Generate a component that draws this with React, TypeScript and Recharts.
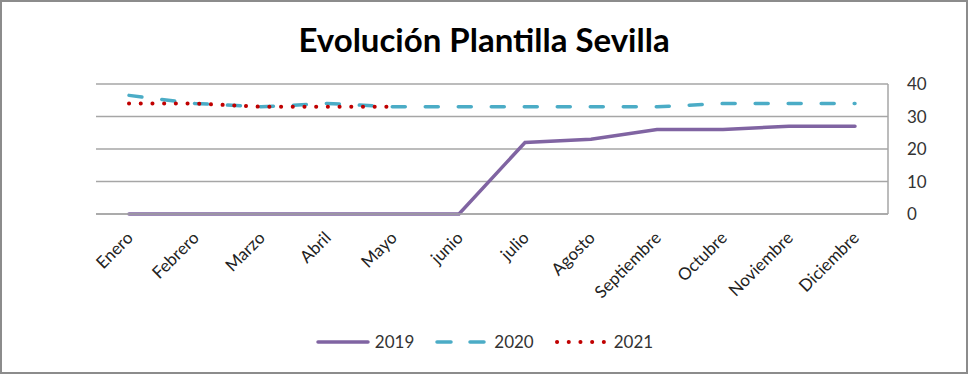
import React from 'react';
import { LineChart, Line, XAxis, YAxis, CartesianGrid, Legend } from 'recharts';

const MONTHS = [
  'Enero', 'Febrero', 'Marzo', 'Abril', 'Mayo', 'junio',
  'julio', 'Agosto', 'Septiembre', 'Octubre', 'Noviembre', 'Diciembre',
];
const PLANTILLA_2019 = [0, 0, 0, 0, 0, 0, 22, 23, 26, 26, 27, 27];
const PLANTILLA_2020 = [36.5, 34, 33, 34, 33, 33, 33, 33, 33, 34, 34, 34];
const PLANTILLA_2021 = [34, 34, 33, 33, 33];
const Y_TICKS = [0, 10, 20, 30, 40];

const FONT = 'Lato, Calibri, sans-serif';

const SERIES = [
  { key: 'y2019', name: '2019', color: '#8064A2', dash: undefined, width: 3.5 },
  { key: 'y2020', name: '2020', color: '#4BACC6', dash: '13 20', width: 3.5 },
  { key: 'y2021', name: '2021', color: '#C00000', dash: '0.1 11.6', width: 4 },
];

const data = MONTHS.map((m, i) => ({
  month: m,
  y2019: PLANTILLA_2019[i],
  y2020: PLANTILLA_2020[i],
  y2021: i < PLANTILLA_2021.length ? PLANTILLA_2021[i] : null,
}));

function MonthTick({ x, y, payload }: any) {
  const tx = x + 5;
  const ty = y + 17;
  return (
    <text
      x={tx}
      y={ty}
      transform={`rotate(-45 ${tx} ${ty})`}
      textAnchor="end"
      fontFamily={FONT}
      fontSize={17}
      fill="#222"
    >
      {payload.value}
    </text>
  );
}

function SeriesLegend() {
  return (
    <div style={{ display: 'flex', justifyContent: 'center', alignItems: 'center', fontFamily: FONT, fontSize: 17, color: '#333' }}>
      {SERIES.map((s) => (
        <div key={s.key} style={{ display: 'flex', alignItems: 'center', margin: '0 10px' }}>
          <svg width={56} height={10} style={{ marginRight: 4 }}>
            <line
              x1={3}
              y1={5}
              x2={53}
              y2={5}
              stroke={s.color}
              strokeWidth={s.width}
              strokeLinecap="round"
              strokeDasharray={s.key === 'y2020' ? '14 19' : s.dash}
            />
          </svg>
          <span>{s.name}</span>
        </div>
      ))}
    </div>
  );
}

export default function App() {
  return (
    <div
      style={{
        position: 'fixed',
        left: 0,
        top: 0,
        width: 968,
        height: 374,
        boxSizing: 'border-box',
        border: '2px solid #8c8c8c',
        background: '#fff',
      }}
    >
      <div style={{ position: 'absolute', left: -2, top: -2 }}>
        <LineChart width={968} height={374} data={data} margin={{ top: 84, right: 0, left: 96, bottom: 0 }}>
          <text x={484} y={52} textAnchor="middle" fontFamily={FONT} fontWeight={700} fontSize={33} fill="#000">
            Evolución Plantilla Sevilla
          </text>
          <CartesianGrid horizontal vertical={false} stroke="#a6a6a6" strokeWidth={1.5} />
          <XAxis
            dataKey="month"
            interval={0}
            height={160}
            padding={{ left: 33, right: 33 }}
            tickLine={false}
            axisLine={{ stroke: '#a6a6a6', strokeWidth: 1.5 }}
            tick={<MonthTick />}
          />
          <YAxis
            orientation="right"
            width={80}
            domain={[0, 40]}
            ticks={Y_TICKS}
            tickLine={false}
            tickSize={6}
            tickMargin={13}
            axisLine={{ stroke: '#a6a6a6', strokeWidth: 1.5 }}
            tick={{ fontFamily: FONT, fontSize: 17, fill: '#333', textAnchor: 'start' }}
          />
          <Legend
            verticalAlign="middle"
            layout="horizontal"
            content={<SeriesLegend />}
            wrapperStyle={{ top: 331, left: 0, width: 968 }}
          />
          {SERIES.map((s) => (
            <Line
              key={s.key}
              type="linear"
              dataKey={s.key}
              name={s.name}
              stroke={s.color}
              strokeWidth={s.width}
              strokeDasharray={s.dash}
              strokeLinecap="round"
              dot={false}
              activeDot={false}
              connectNulls={false}
              isAnimationActive={false}
            />
          ))}
        </LineChart>
      </div>
    </div>
  );
}
